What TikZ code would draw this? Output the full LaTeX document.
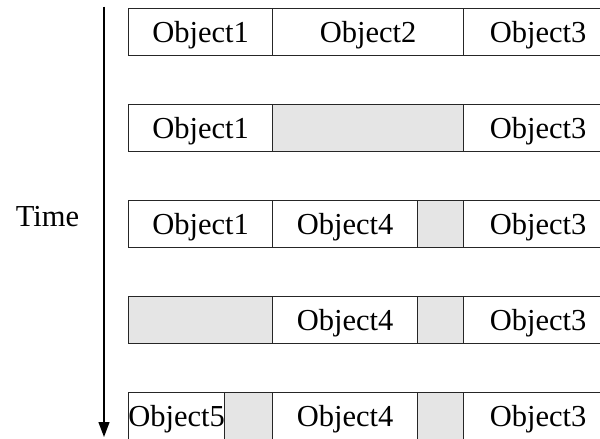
\documentclass[tikz,border=0pt]{standalone}
\usepackage{fontspec}
\setmainfont{Liberation Serif}
\usetikzlibrary{arrows.meta}
\begin{document}
\begin{tikzpicture}[x=1pt,y=-1pt,
  cell/.style={draw=black!85, line width=1.3pt, rectangle, anchor=north west,
    inner sep=0pt, minimum height=47pt, text depth=0pt,
    font=\fontsize{30.5}{36}\selectfont},
  free/.style={cell, fill=black!10},
  timeaxis/.style={line width=1.3pt, -{Triangle[width=11pt,length=15pt]}}]
\useasboundingbox (0,0) rectangle (600,439);
\clip (0,0) rectangle (600,439);

% time axis
\coordinate (tstart) at (104,6.5);
\coordinate (tend) at (104,437);
\draw[timeaxis] (tstart) -- (tend);
\node[font=\fontsize{30.5}{36}\selectfont, text depth=0pt] (time) at (47.5,216.5) {Time};

% row 1
\node[cell, minimum width=144pt] (a1) at (128,7.5) {Object1};
\node[cell, minimum width=191pt] (a2) at (272,7.5) {Object2};
\node[cell, minimum width=149pt] (a3) at (463,7.5) {Object3};

% row 2
\node[cell, minimum width=144pt] (b1) at (128,103.5) {Object1};
\node[free, minimum width=191pt] (b2) at (272,103.5) {};
\node[cell, minimum width=149pt] (b3) at (463,103.5) {Object3};

% row 3
\node[cell, minimum width=144pt] (c1) at (128,199.5) {Object1};
\node[cell, minimum width=145pt] (c2) at (272,199.5) {Object4};
\node[free, minimum width=46pt] (c3) at (417,199.5) {};
\node[cell, minimum width=149pt] (c4) at (463,199.5) {Object3};

% row 4
\node[free, minimum width=144pt] (d1) at (128,295.5) {};
\node[cell, minimum width=145pt] (d2) at (272,295.5) {Object4};
\node[free, minimum width=46pt] (d3) at (417,295.5) {};
\node[cell, minimum width=149pt] (d4) at (463,295.5) {Object3};

% row 5
\node[cell, minimum width=96pt] (e1) at (128,391.5) {\makebox[0pt]{Object5}};
\node[free, minimum width=48pt] (e2) at (224,391.5) {};
\node[cell, minimum width=145pt] (e3) at (272,391.5) {Object4};
\node[free, minimum width=46pt] (e4) at (417,391.5) {};
\node[cell, minimum width=149pt] (e5) at (463,391.5) {Object3};
\end{tikzpicture}
\end{document}
